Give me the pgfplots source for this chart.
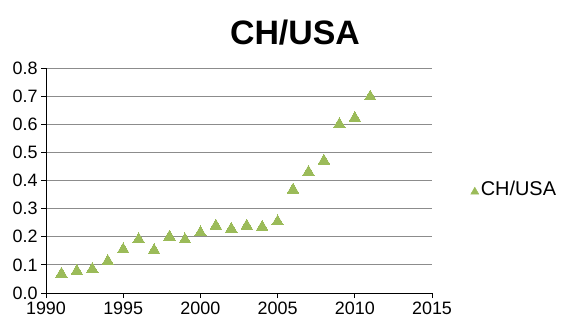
\documentclass[border=0pt]{standalone}
\usepackage{pgfplots}
\pgfplotsset{compat=1.18}
\usepackage{fontspec}
\setmainfont{Liberation Sans}
\definecolor{markgreen}{RGB}{155,187,89}
\definecolor{gridgray}{RGB}{140,140,140}

\pgfplotstableread{
year ratio
1991 0.068
1992 0.078
1993 0.085
1994 0.113
1995 0.155
1996 0.191
1997 0.152
1998 0.200
1999 0.190
2000 0.215
2001 0.239
2002 0.228
2003 0.239
2004 0.235
2005 0.254
2006 0.367
2007 0.430
2008 0.470
2009 0.600
2010 0.622
2011 0.698
}\chusa

\begin{document}
\begin{tikzpicture}[x=1bp,y=1bp]
\useasboundingbox (0,0) rectangle (565,320);
\begin{axis}[
  at={(46bp,27bp)}, anchor=south west,
  scale only axis,
  width=386bp, height=225bp,
  xmin=1990, xmax=2015, ymin=0, ymax=0.8,
  xtick={1990,1995,...,2015},
  ytick={0,0.1,...,0.8},
  axis x line*=bottom, axis y line*=left,
  axis line style={-, black, line width=0.8bp},
  tick style={black, line width=0.8bp},
  tick align=outside,
  major tick length=5bp,
  ymajorgrids,
  major grid style={gridgray, line width=0.9bp},
  tick label style={font=\fontsize{18}{20}\selectfont},
  /pgf/number format/assume math mode=true,
  xticklabel style={yshift=0bp, /pgf/number format/set thousands separator={}},
  yticklabel style={xshift=0bp, /pgf/number format/.cd, fixed, fixed zerofill, precision=1},
  title={\fontsize{34}{36}\selectfont\bfseries CH/USA},
  title style={at={(0.645,1)}, anchor=south, yshift=13bp},
  legend style={draw=none, fill=none, at={(1.10,0.46)}, anchor=west,
    font=\fontsize{20}{22}\selectfont, inner sep=0pt,
    /tikz/every even column/.append style={column sep=0pt}},
  legend cell align=left,
  legend image code/.code={\path[mark=triangle*, mark size=4.6bp, mark options={draw=markgreen, fill=markgreen}] plot coordinates {(0.13cm,-0.08cm)};},
]
\addplot[only marks, color=markgreen, mark=triangle*, mark size=6.6bp,
  mark options={draw=markgreen, fill=markgreen, line width=0pt}] table[x=year, y=ratio] {\chusa};
\addlegendentry{CH/USA}
\end{axis}
\end{tikzpicture}
\end{document}
